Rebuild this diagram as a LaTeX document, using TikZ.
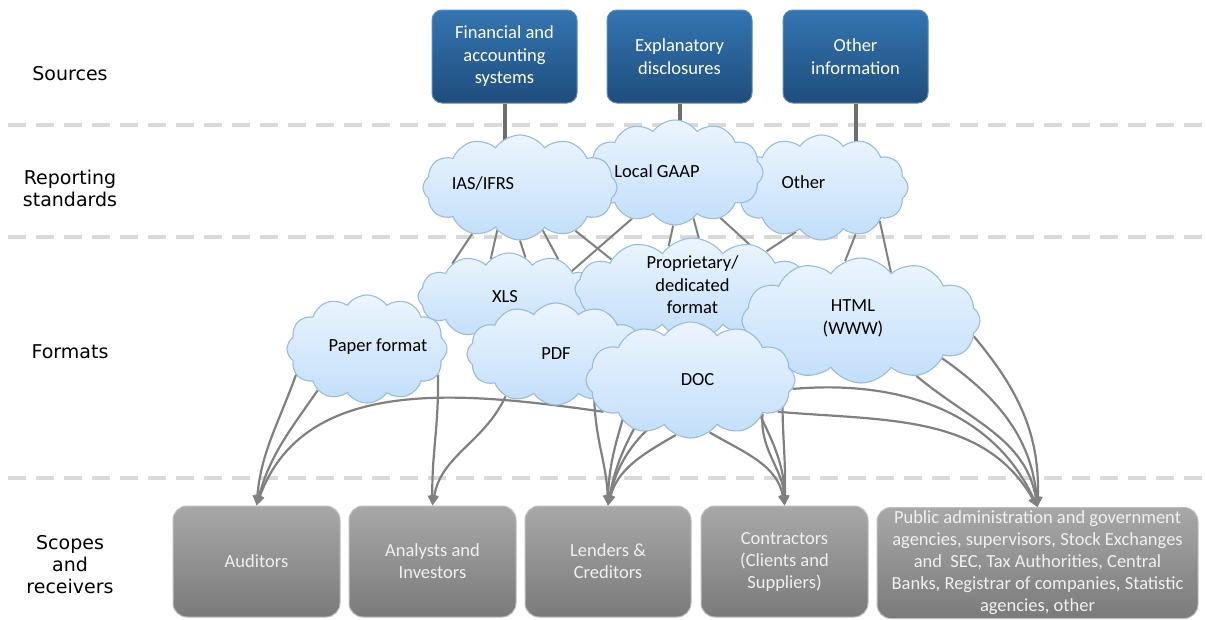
\documentclass[tikz,border=0pt]{standalone}
\usepackage{fontspec}
\setmainfont{Carlito}
\newfontfamily\rowfont{DejaVu Sans}
\usetikzlibrary{arrows.meta,shapes.symbols,backgrounds}

\definecolor{srctop}{RGB}{52,117,178}
\definecolor{srcbot}{RGB}{31,77,124}
\definecolor{srcline}{RGB}{95,140,185}
\definecolor{cloudtop}{RGB}{236,245,254}
\definecolor{cloudbot}{RGB}{194,222,250}
\definecolor{cloudline}{RGB}{150,188,224}
\definecolor{rcvtop}{RGB}{168,168,168}
\definecolor{rcvbot}{RGB}{122,122,122}
\definecolor{rcvline}{RGB}{190,190,190}
\definecolor{link}{RGB}{128,128,128}
\definecolor{divcol}{RGB}{217,217,217}

\tikzset{
  rowtitle/.style={font=\rowfont\fontsize{19}{22}\selectfont, align=center},
  source/.style={draw=srcline, line width=1pt, top color=srctop, bottom color=srcbot,
    rounded corners=10pt, minimum width=145pt, minimum height=93pt, text=white,
    align=center, font=\fontsize{18.5}{22.5}\selectfont},
  receiver/.style={draw=rcvline, line width=1pt, top color=rcvtop, bottom color=rcvbot,
    rounded corners=14pt, minimum height=111pt, text=white!94!black,
    align=center, font=\fontsize{18.5}{22}\selectfont},
  cloudy/.style={cloud, cloud puffs=12, cloud puff arc=110, cloud ignores aspect,
    draw=cloudline, line width=1.1pt, top color=cloudtop, bottom color=cloudbot, inner sep=0pt},
  divider/.style={divcol, line width=4pt, dash pattern=on 18pt off 10pt},
  feed/.style={draw=link!85!black, line width=4pt},
  std/.style={draw=link, line width=2pt},
  flow/.style={draw=link, line width=2.2pt, ->}
}

\begin{document}
\begin{tikzpicture}[x=1pt, y=1pt, >={Triangle[length=10pt,width=9pt]},
  every label/.append style={font=\fontsize{18.5}{22.5}\selectfont, align=center}]

\useasboundingbox (0,0) rectangle (1206,-619);

% row titles
\node[rowtitle] (t1) at (70,-74) {Sources};
\node[rowtitle] (t2) at (70,-188) {Reporting\\standards};
\node[rowtitle] (t3) at (70,-352) {Formats};
\node[rowtitle] (t4) at (70,-565) {Scopes\\and\\receivers};

% sources
\node[source] (fin) at (504.5,-56.5) {Financial and\\accounting\\systems};
\node[source] (exp) at (679.5,-56.5) {Explanatory\\disclosures};
\node[source] (oth) at (855.5,-56.5) {Other\\information};

% reporting standards, back to front
\node[cloudy, minimum width=173pt, minimum height=105pt,
  label={[xshift=-18pt,yshift=5pt]center:Other}] (other) at (821.5,-187.5) {};
\node[cloudy, minimum width=176pt, minimum height=105pt,
  label={[xshift=-18pt,yshift=1pt]center:Local GAAP}] (gaap) at (675,-172.5) {};
\node[cloudy, minimum width=194pt, minimum height=105pt,
  label={[xshift=-37pt,yshift=4pt]center:IAS/IFRS}] (ias) at (520,-187.5) {};

% formats, back to front
\node[cloudy, minimum width=182pt, minimum height=87pt,
  label={[xshift=-4pt]center:XLS}] (xls) at (509,-296.5) {};
\node[cloudy, minimum width=235pt, minimum height=102pt,
  label={[yshift=4pt]center:Proprietary/\\dedicated\\format}] (prop) at (692.5,-289) {};
\node[cloudy, minimum width=160pt, minimum height=108pt,
  label={[xshift=11pt,yshift=2pt]center:Paper format}] (paper) at (367,-349) {};
\node[cloudy, minimum width=178pt, minimum height=102pt,
  label={center:PDF}] (pdf) at (556,-354) {};
\node[cloudy, minimum width=238pt, minimum height=125pt,
  label={[xshift=-8pt,yshift=2pt]center:HTML\\(WWW)}] (html) at (861,-320.5) {};
\node[cloudy, minimum width=209pt, minimum height=116pt,
  label={[xshift=7pt]center:DOC}] (doc) at (690.5,-380) {};

% scopes and receivers
\node[receiver, minimum width=167pt] (aud) at (256.5,-561.5) {Auditors};
\node[receiver, minimum width=167pt] (ana) at (432.5,-561.5) {Analysts and\\Investors};
\node[receiver, minimum width=166pt] (lend) at (608,-561.5) {Lenders \&\\Creditors};
\node[receiver, minimum width=167pt] (con) at (784.5,-561.5) {Contractors\\(Clients and\\Suppliers)};
\node[receiver, minimum width=321pt] (pub) at (1037.5,-563)
  {Public administration and government\\agencies, supervisors, Stock Exchanges\\and~ SEC, Tax Authorities, Central\\Banks, Registrar of companies, Statistic\\agencies, other};

\begin{scope}[on background layer]
\foreach \y in {125,237,478}
  \draw[divider] (8,-\y) -- (1206,-\y);

% sources -> standards
\draw[feed] (fin.south) -- (fin.south |- ias.center);
\draw[feed] (exp.south) -- (exp.south |- gaap.center);
\draw[feed] (oth.south) -- (oth.south |- other.center);

% standards -> formats
\draw[std] (ias.-136) -- (xls.150);
\draw[std] (ias.-118) -- (xls.116);
\draw[std] (ias.-90) -- (xls.67);
\draw[std] (ias.-62) -- (xls.37);
\draw[std] (ias.-38) -- (prop.160);
\draw[std] (gaap.-133) -- (xls.22);
\draw[std] (gaap.-92) -- (prop.119);
\draw[std] (gaap.-68) -- (prop.83);
\draw[std] (gaap.-45) -- (html.150);
\draw[std] (other.-120) -- (prop.27);
\draw[std] (other.-54) -- (html.105);
\draw[std] (other.-30) -- (html.58);

% formats -> receivers
\draw[flow] (paper.-160) to[out=-110,in=85] (aud.north);
\draw[flow] (paper.-140) to[out=-125,in=75] (aud.north);
\draw[flow] (doc.-160) to[out=172,in=70] (aud.north);
\draw[flow] (paper.-20) to[out=-89,in=91] (ana.north);
\draw[flow] (pdf.-140) to[out=-115,in=80] (ana.north);
\draw[flow] (pdf.-50) to[out=-88,in=92] (lend.north);
\draw[flow] (prop.-140) to[out=-92,in=89] (lend.north);
\draw[flow] (doc.-105) to[out=-150,in=75] (lend.north);
\draw[flow] (prop.-100) to[out=-115,in=80] (lend.north);
\draw[flow] (html.-160) to[out=-150,in=78] (lend.north);
\draw[flow] (doc.-70) to[out=-30,in=100] (con.north);
\draw[flow] (doc.-25) to[out=-95,in=92] (con.north);
\draw[flow] (html.-150) to[out=-95,in=88] (con.north);
\draw[flow] (prop.-45) to[out=-88,in=90] (con.north);
\draw[flow] (doc.-5) to[out=5,in=115] (pub.north);
\draw[flow] (doc.-20) to[out=-5,in=120] (pub.north);
\draw[flow] (html.-45) to[out=-40,in=100] (pub.north);
\draw[flow] (html.-25) to[out=-35,in=95] (pub.north);
\draw[flow] (html.-8) to[out=-50,in=88] (pub.north);
\end{scope}

\end{tikzpicture}
\end{document}
